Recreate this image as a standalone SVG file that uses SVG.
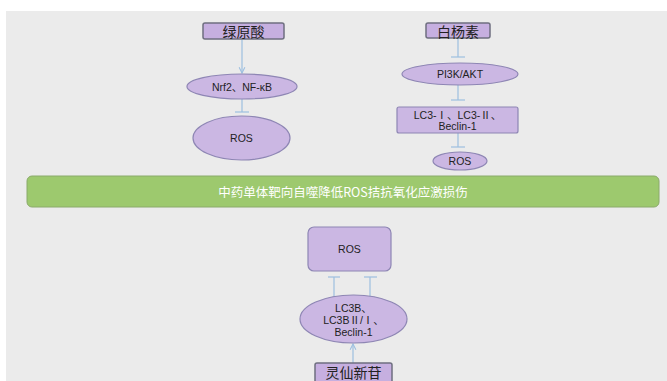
<svg xmlns="http://www.w3.org/2000/svg" width="667" height="381" viewBox="0 0 667 381">
<defs>
<style>
.node{fill:#cbb7e3;stroke:#8e86b4;stroke-width:1.2}
.box{fill:#c6afe0;stroke:#6f6f80;stroke-width:1.5}
.t{font-family:"Liberation Sans","Noto Sans CJK SC",sans-serif;font-size:10.5px;fill:#222;text-anchor:middle;dominant-baseline:central}
.cn{font-family:"Noto Sans CJK SC","Liberation Sans",sans-serif;font-size:14px;fill:#222;text-anchor:middle;dominant-baseline:central}
.c{stroke:#9dbfe0;stroke-width:1.2;fill:none}
</style>
<marker id="arr" viewBox="0 0 10 10" refX="9" refY="5" markerWidth="6" markerHeight="6" orient="auto"><path d="M1,1 L9,5 L1,9" fill="none" stroke="#9dbfe0" stroke-width="1.5"/></marker>
</defs>
<rect x="0" y="0" width="667" height="381" fill="#ffffff"/>
<rect x="6" y="11" width="661" height="370" fill="#ebebeb"/>
<g id="connectors">
<line class="c" x1="242" y1="39" x2="242" y2="73" marker-end="url(#arr)"/>
<line class="c" x1="242" y1="99" x2="242" y2="112"/><line class="c" x1="235" y1="112" x2="249" y2="112"/>
<line class="c" x1="458" y1="38" x2="458" y2="57"/><line class="c" x1="451" y1="57" x2="465" y2="57"/>
<line class="c" x1="458" y1="85" x2="458" y2="100"/><line class="c" x1="451" y1="100" x2="465" y2="100"/>
<line class="c" x1="458" y1="133" x2="458" y2="147"/><line class="c" x1="451" y1="147" x2="465" y2="147"/>
<line class="c" x1="334" y1="297" x2="334" y2="277"/><line class="c" x1="328" y1="277" x2="340" y2="277"/>
<line class="c" x1="370" y1="297" x2="370" y2="277"/><line class="c" x1="364" y1="277" x2="377" y2="277"/>
<line class="c" x1="353" y1="363" x2="353" y2="344" marker-end="url(#arr)"/>
</g>
<g id="n-lvyuansuan"><rect class="box" x="203" y="23" width="81" height="16" rx="2"/><text class="cn" x="243.5" y="31">绿原酸</text></g>
<g id="n-nrf2"><ellipse class="node" cx="242" cy="86.5" rx="55" ry="12.5"/><text class="t" x="242" y="86.5">Nrf2、NF-κB</text></g>
<g id="n-ros1"><ellipse class="node" cx="241.5" cy="138" rx="48.5" ry="22"/><text class="t" x="241.5" y="138">ROS</text></g>
<g id="n-baiyangsu"><rect class="box" x="426" y="23" width="64" height="15" rx="2"/><text class="cn" x="458" y="30.5">白杨素</text></g>
<g id="n-pi3k"><ellipse class="node" cx="460" cy="74" rx="58" ry="11"/><text class="t" x="460" y="74">PI3K/AKT</text></g>
<g id="n-lc3"><rect class="node" x="397" y="107" width="121" height="26" rx="2"/><text class="t" x="457.5" y="114.5">LC3-Ⅰ、LC3-Ⅱ、</text><text class="t" x="457.5" y="126">Beclin-1</text></g>
<g id="n-ros2"><ellipse class="node" cx="460" cy="161" rx="27" ry="9"/><text class="t" x="460" y="161">ROS</text></g>
<g id="n-banner"><rect x="27" y="176" width="632" height="31" rx="5" fill="#9dc96e" stroke="#8aaa6a" stroke-width="1"/><text class="cn" x="343" y="191.5" style="fill:#ffffff;font-size:12.5px">中药单体靶向自噬降低ROS拮抗氧化应激损伤</text></g>
<g id="n-ros3"><rect class="node" x="308" y="227" width="83" height="44" rx="6"/><text class="t" x="349.5" y="249">ROS</text></g>
<g id="n-lc3b"><ellipse class="node" cx="353.5" cy="319" rx="53.5" ry="24"/><text class="t" x="353.5" y="308">LC3B、</text><text class="t" x="353.5" y="320">LC3BⅡ/Ⅰ、</text><text class="t" x="353.5" y="332">Beclin-1</text></g>
<g id="n-lingxian"><rect class="box" x="315" y="363" width="77" height="20" rx="2"/><text class="cn" x="353.5" y="372">灵仙新苷</text></g>
</svg>
